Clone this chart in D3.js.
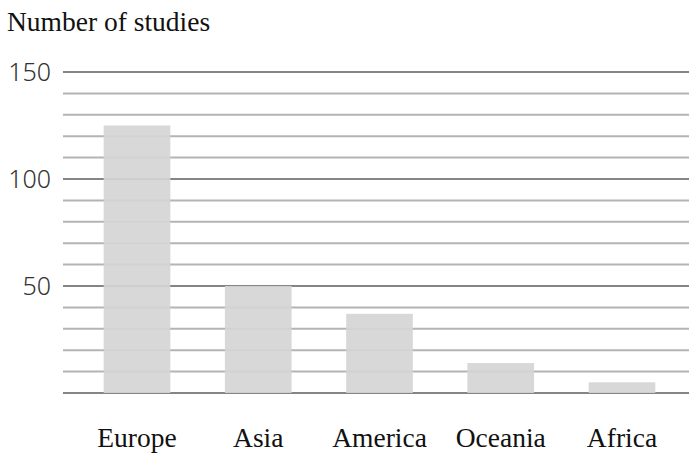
<!DOCTYPE html>
<html>
<head>
<meta charset="utf-8">
<script src="https://cdn.jsdelivr.net/npm/d3@7/dist/d3.min.js"></script>
<style>
  html, body { margin: 0; padding: 0; background: #fff; }
  svg { display: block; }
</style>
</head>
<body>
<svg id="chart" width="689" height="454"></svg>
<script>
// Studies per continent
const regions = ["Europe", "Asia", "America", "Oceania", "Africa"];
const studies = [125, 50, 37, 14, 5];
const yTickLabels = [50, 100, 150];

const svg = d3.select("#chart");
const W = 689;

const y = d3.scaleLinear().domain([0, 150]).range([393, 72]);
const x = d3.scaleBand()
  .domain(regions)
  .range([76.4, 682.6])
  .paddingInner(0.45)
  .paddingOuter(0.225);

// Horizontal grid every 10 studies, darker every 50
const gridVals = d3.range(0, 151, 10);
svg.append("g")
  .selectAll("line")
  .data(gridVals)
  .join("line")
  .attr("x1", 63)
  .attr("x2", W)
  .attr("y1", d => y(d))
  .attr("y2", d => y(d))
  .attr("stroke", d => d % 50 === 0 ? "#858585" : "#b4b4b4")
  .attr("stroke-width", 2);

// Bars
svg.append("g")
  .selectAll("rect")
  .data(regions)
  .join("rect")
  .attr("x", d => x(d))
  .attr("width", x.bandwidth())
  .attr("y", (d, i) => y(studies[i]))
  .attr("height", (d, i) => y(0) - y(studies[i]))
  .attr("fill", "#d5d5d5")
  .attr("fill-opacity", 0.92);

// Y axis labels
const yAxis = d3.axisLeft(y).tickValues(yTickLabels).tickSize(0).tickPadding(0);
const yg = svg.append("g").attr("transform", "translate(51,0)").call(yAxis);
yg.select(".domain").remove();
yg.selectAll("text")
  .attr("font-family", "'Noto Sans', 'DejaVu Sans', sans-serif")
  .attr("font-size", 25)
  .attr("font-weight", 300)
  .attr("fill", "#333")
  .attr("dy", "0.34em");

// Category labels
const xAxis = d3.axisBottom(x).tickSize(0).tickPadding(0);
const xg = svg.append("g").attr("transform", "translate(0,427)").call(xAxis);
xg.select(".domain").remove();
xg.selectAll("text")
  .attr("font-family", "'Liberation Serif', 'Times New Roman', serif")
  .attr("font-size", 27.5)
  .attr("fill", "#111")
  .attr("dy", "0.71em");

// Axis title
svg.append("text")
  .attr("x", 7)
  .attr("y", 31)
  .attr("font-family", "'Liberation Serif', 'Times New Roman', serif")
  .attr("font-size", 27.5)
  .attr("fill", "#111")
  .text("Number of studies");
</script>
</body>
</html>
